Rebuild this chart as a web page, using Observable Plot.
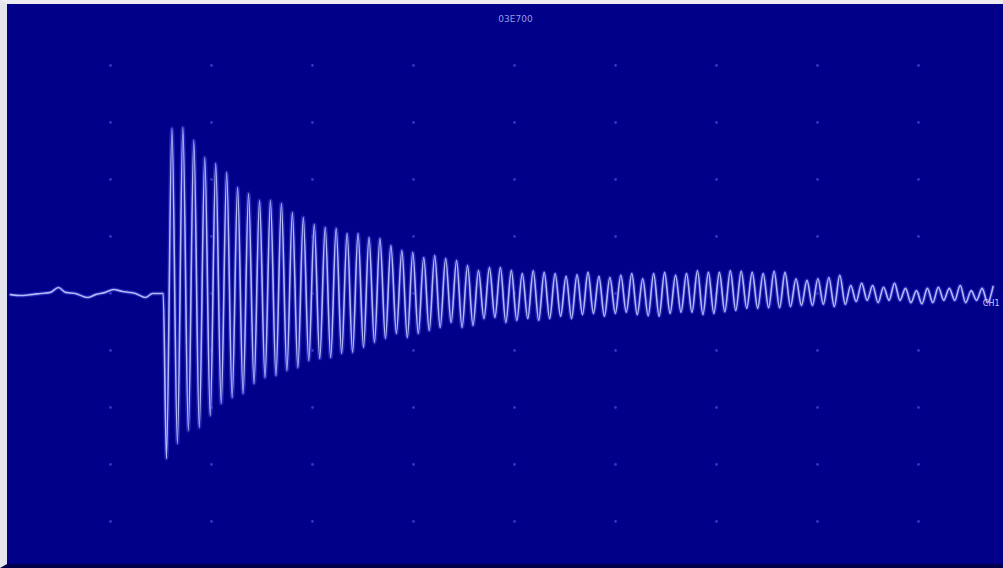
<!DOCTYPE html>
<html>
<head>
<meta charset="utf-8">
<script src="https://cdn.jsdelivr.net/npm/d3@7"></script>
<script src="https://cdn.jsdelivr.net/npm/@observablehq/plot@0.6"></script>
<style>
  html, body { margin: 0; padding: 0; background: #ffffff; }
  #wrap {
    position: absolute; left: 0; top: 0;
    width: 996px; height: 560px;
    border-left: 7px solid #e4e4ec;
    border-top: 4px solid #ececf2;
    border-bottom: 4px solid #00004c;
    background: #000088;
    overflow: hidden;
  }
  #wrap svg { display: block; overflow: hidden; }
</style>
</head>
<body>
<div id="wrap"></div>
<script>
// Screen title and channel marker (as read from the display)
const titleText = "03E700";
const channelLabel = "CH1";

// Graticule divisions (10 x 10 screen, dots at interior intersections)
const xDivs = [1, 2, 3, 4, 5, 6, 7, 8, 9];
const yDivs = [-4, -3, -2, -1, 0, 1, 2, 3, 4];

// Pre-trigger baseline trace: time (div) and level (div)
const baseT = [0.01, 0.109, 0.208, 0.307, 0.406, 0.485, 0.554, 0.653, 0.772, 0.851, 0.950, 1.030, 1.119, 1.248, 1.347, 1.416, 1.495, 1.522];
const baseV = [-0.02, -0.035, -0.02, 0, 0.02, 0.105, 0.02, 0, -0.07, -0.02, 0.02, 0.07, 0.035, 0, -0.07, 0, 0, 0];

// Ringing: first trough time and half-period (div)
const ringStart = 1.554;
const halfPeriod = 0.0542;

// Successive trough levels (div), one per cycle
const troughs = [
  -2.895, -2.632, -2.404, -2.351, -2.140, -1.930, -1.825, -1.754, -1.579, -1.474,
  -1.439, -1.351, -1.298, -1.175, -1.140, -1.123, -1.053, -1.035, -0.947, -0.860,
  -0.789, -0.702, -0.772, -0.702, -0.649, -0.596, -0.509, -0.596, -0.561, -0.439,
  -0.421, -0.509, -0.474,
  -0.44, -0.47, -0.44, -0.40, -0.44, -0.37, -0.35, -0.40, -0.35, -0.33,
  -0.37, -0.39, -0.40, -0.35, -0.33, -0.33, -0.37, -0.35, -0.32, -0.30,
  -0.26, -0.26, -0.25, -0.25, -0.23, -0.21, -0.21, -0.19, -0.23, -0.19,
  -0.14, -0.12, -0.16, -0.12, -0.12, -0.16, -0.18, -0.16, -0.12, -0.12,
  -0.16, -0.12, -0.16
];

// Successive peak levels (div), one per cycle
const peaks = [
  2.895, 2.912, 2.684, 2.386, 2.281, 2.123, 1.860, 1.754, 1.632, 1.632,
  1.579, 1.421, 1.333, 1.211, 1.158, 1.140, 1.053, 1.053, 0.982, 0.965,
  0.842, 0.754, 0.719, 0.632, 0.667, 0.614, 0.579, 0.491, 0.404, 0.456,
  0.456, 0.404, 0.351,
  0.40, 0.37, 0.35, 0.30, 0.33, 0.37, 0.30, 0.28, 0.32, 0.35,
  0.26, 0.35, 0.37, 0.32, 0.35, 0.40, 0.37, 0.37, 0.40, 0.39,
  0.37, 0.35, 0.39, 0.37, 0.26, 0.23, 0.26, 0.28, 0.32, 0.14,
  0.18, 0.14, 0.11, 0.18, 0.09, 0.05, 0.09, 0.11, 0.09, 0.14,
  0.05, 0.09, 0.12
];

// Build the trace table
const trace = baseT.map((t, i) => ({t, v: baseV[i]}));
troughs.forEach((v, i) => {
  trace.push({t: ringStart + 2 * i * halfPeriod, v});
  trace.push({t: ringStart + (2 * i + 1) * halfPeriod, v: peaks[i]});
});

const grid = [];
for (const gx of xDivs) for (const gy of yDivs) grid.push({gx, gy});

const chart = Plot.plot({
  width: 996,
  height: 560,
  margin: 0,
  x: {domain: [0, 10], range: [2, 1012], axis: null},
  y: {domain: [-5, 5], range: [574, 4], axis: null},
  style: {background: "#000088", overflow: "hidden"},
  marks: [
    Plot.dot(grid, {x: "gx", y: "gy", r: 1.4, fill: "#3434c8", stroke: null}),
    Plot.line(trace, {x: "t", y: "v", curve: "monotone-x", stroke: "#3c40d8", strokeWidth: 4, strokeOpacity: 0.55, clip: true}),
    Plot.line(trace, {x: "t", y: "v", curve: "monotone-x", stroke: "#b4b8f6", strokeWidth: 1.6, clip: true}),
    Plot.text([titleText], {text: d => d, frameAnchor: "top", dx: 10, dy: 11, fill: "#9a9ae4", fontSize: 9, fontFamily: "DejaVu Sans"}),
    Plot.text([channelLabel], {text: d => d, frameAnchor: "right", dx: -4, dy: 19, textAnchor: "end", fill: "#c8ccff", fontSize: 8, fontFamily: "DejaVu Sans"})
  ]
});
document.getElementById("wrap").appendChild(chart);
</script>
</body>
</html>
